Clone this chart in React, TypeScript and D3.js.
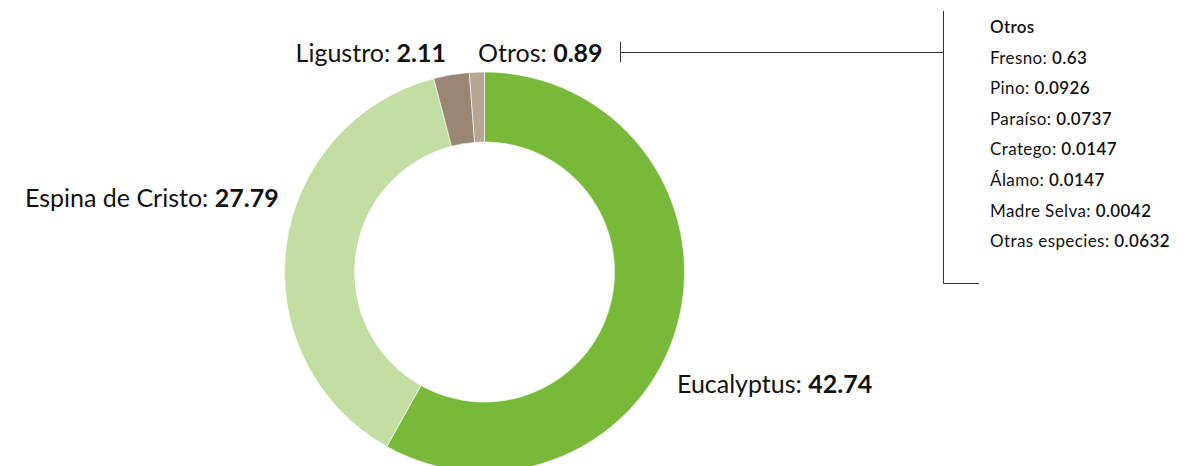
import React from 'react'
import * as d3 from 'd3'

// main ring
const species = ['Eucalyptus', 'Espina de Cristo', 'Ligustro', 'Otros']
const shares = [42.74, 27.79, 2.11, 0.89]
const colors = ['#79b93a', '#c3dea2', '#9a8673', '#b5a594']

// breakdown of "Otros"
const otrosNames = ['Fresno', 'Pino', 'Paraíso', 'Cratego', 'Álamo', 'Madre Selva', 'Otras especies']
const otrosValues = ['0.63', '0.0926', '0.0737', '0.0147', '0.0147', '0.0042', '0.0632']

const W = 1189
const H = 466
const cx = 484.5
const cy = 272
const outerR = 200
const innerR = 130

// where each ring label sits (anchor x, baseline, anchor)
const labelPos: [number, number, string][] = [
  [677, 393, 'start'],
  [25, 207, 'start'],
  [446, 62, 'end'],
  [478, 62, 'start'],
]

const font = 'Lato, "Open Sans", sans-serif'

const App: React.FC = () => {
  const data = species.map((s, i) => ({ name: s, value: shares[i], color: colors[i] }))
  const pie = d3.pie<{ name: string; value: number; color: string }>()
    .sort(null)
    .value((d) => d.value)
  const arc = d3.arc<d3.PieArcDatum<{ name: string; value: number; color: string }>>()
    .innerRadius(innerR)
    .outerRadius(outerR)
  const arcs = pie(data)

  const listX = 990
  const listY0 = 33
  const listStep = 30.6

  return (
    <svg width={W} height={H} style={{ position: 'absolute', left: 0, top: 0, background: '#fff' }} fontFamily={font}>
      <g transform={`translate(${cx},${cy})`}>
        {arcs.map((a, i) => (
          <path key={i} d={arc(a) || ''} fill={a.data.color} stroke="#fff" strokeWidth={0.6} />
        ))}
      </g>

      {data.map((d, i) => (
        <text key={d.name} x={labelPos[i][0]} y={labelPos[i][1]} textAnchor={labelPos[i][2]} fontSize={25} fill="#111">
          {d.name}: <tspan fontWeight={700}>{d.value.toFixed(2)}</tspan>
        </text>
      ))}

      {/* leader from Otros to the breakdown */}
      <g stroke="#333" strokeWidth={1} fill="none">
        <line x1={620.5} y1={42} x2={620.5} y2={62} />
        <line x1={620.5} y1={52.5} x2={943.5} y2={52.5} />
        <line x1={943.5} y1={11} x2={943.5} y2={283.5} />
        <line x1={943.5} y1={283.5} x2={979} y2={283.5} />
      </g>

      <text x={listX} y={listY0} fontSize={17} fontWeight={600} fill="#111" letterSpacing={0.3}>Otros</text>
      {otrosNames.map((n, i) => (
        <text key={n} x={listX} y={listY0 + listStep * (i + 1)} fontSize={17} fill="#111" letterSpacing={0.4}>
          {n}: <tspan fontWeight={600}>{otrosValues[i]}</tspan>
        </text>
      ))}
    </svg>
  )
}

export default App
